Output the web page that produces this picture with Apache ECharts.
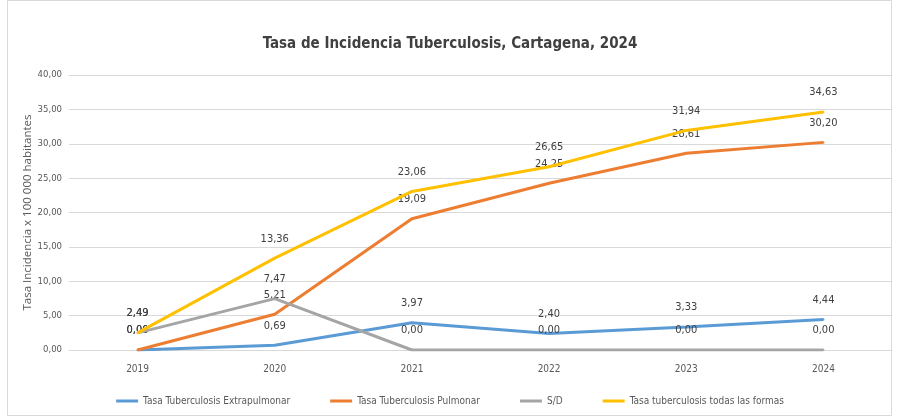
<!DOCTYPE html>
<html><head><meta charset="utf-8">
<script src="https://cdn.jsdelivr.net/npm/echarts@6/dist/echarts.min.js"></script>
<style>html,body{margin:0;padding:0;background:#fff}#c{width:900px;height:417px}</style>
</head><body><div id="c"></div>
<script>
const categories = ['2019','2020','2021','2022','2023','2024'];
const extrapulmonar = [0.00, 0.69, 3.97, 2.40, 3.33, 4.44];
const pulmonar = [0.00, 5.21, 19.09, 24.25, 28.61, 30.20];
const sinDato = [2.49, 7.47, 0.00, 0.00, 0.00, 0.00];
const todas = [2.49, 13.36, 23.06, 26.65, 31.94, 34.63];
const seriesNames = ['Tasa Tuberculosis Extrapulmonar','Tasa Tuberculosis Pulmonar','S/D','Tasa tuberculosis todas las formas'];
const colors = ['#5B9BD5','#ED7D31','#A5A5A5','#FFC000'];
const FONT = '"DejaVu Sans Condensed", "Liberation Sans Narrow", "Liberation Sans", sans-serif';
const fmt = v => v.toFixed(2).replace('.', ',');
const chart = echarts.init(document.getElementById('c'));
const mk = (name, data, i) => ({
  name, type: 'line', data, symbol: 'circle', symbolSize: 2, showSymbol: true, smooth: false,
  lineStyle: {width: 3, color: colors[i]}, itemStyle: {color: colors[i]},
  label: {show: true, position: 'top', distance: 13, color: '#404040', fontSize: 11, fontFamily: FONT,
    formatter: p => fmt(p.value)},
  labelLayout: {hideOverlap: false},
  z: 2 + i
});
chart.setOption({
  animation: false,
  textStyle: {fontFamily: FONT},
  graphic: [{type: 'rect', shape: {x: 7.5, y: 0.5, width: 884, height: 415}, style: {fill: 'none', stroke: '#d9d9d9', lineWidth: 1}, silent: true}],
  title: {text: 'Tasa de Incidencia Tuberculosis, Cartagena, 2024', left: 'center', top: 32,
    textStyle: {fontSize: 15, fontWeight: 'bold', color: '#404040', fontFamily: FONT}},
  color: colors,
  legend: {bottom: 6, left: 'center', itemWidth: 22, itemHeight: 3, itemGap: 40, icon: 'rect',
    textStyle: {fontSize: 10, color: '#595959', fontFamily: FONT}, data: seriesNames},
  grid: {left: 69, right: 8, top: 75, bottom: 67},
  xAxis: {type: 'category', data: categories, boundaryGap: true,
    axisLine: {show: true, lineStyle: {color: '#d9d9d9'}}, axisTick: {show: false},
    axisLabel: {color: '#595959', fontSize: 10, margin: 14, fontFamily: FONT}},
  yAxis: {type: 'value', min: 0, max: 40, interval: 5,
    name: 'Tasa Incidencia x 100 000 habitantes', nameLocation: 'middle', nameGap: 35, nameMoveOverlap: false,
    nameTextStyle: {color: '#595959', fontSize: 11.5, fontFamily: '"Open Sans", sans-serif'},
    axisLine: {show: false}, axisTick: {show: false},
    splitLine: {lineStyle: {color: '#d9d9d9'}},
    axisLabel: {color: '#595959', fontSize: 9.5, margin: 7, formatter: v => fmt(v), fontFamily: FONT}},
  series: [mk(seriesNames[0], extrapulmonar, 0), mk(seriesNames[1], pulmonar, 1), mk(seriesNames[2], sinDato, 2), mk(seriesNames[3], todas, 3)]
});
</script></body></html>
